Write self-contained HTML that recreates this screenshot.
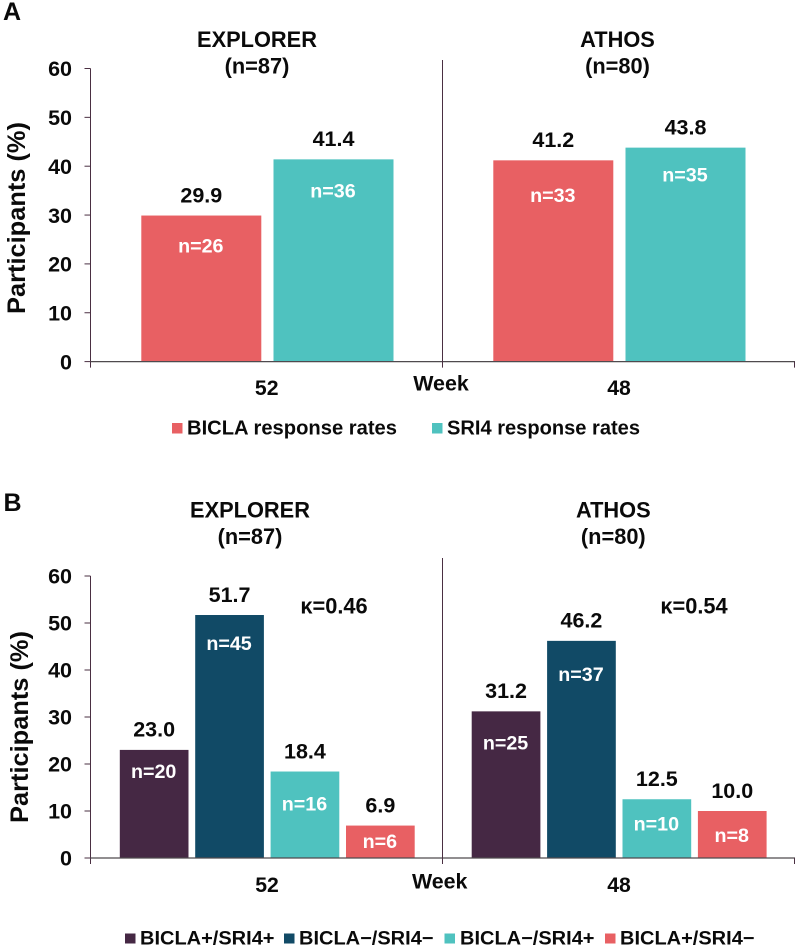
<!DOCTYPE html>
<html><head><meta charset="utf-8"><title>BICLA and SRI4 response rates</title>
<style>html,body{margin:0;padding:0;background:#fff}svg{display:block}text{font-family:"Liberation Sans",sans-serif;font-weight:bold;fill:#0a0a0a}</style></head>
<body>
<svg id="chart" width="800" height="947" viewBox="0 0 800 947" xmlns="http://www.w3.org/2000/svg"></svg>
<script>
const yTicks = [0, 10, 20, 30, 40, 50, 60];
const trials = ['EXPLORER', 'ATHOS'];
const trialSizes = ['(n=87)', '(n=80)'];
const weeks = ['52', '48'];
const panelAValues = [[29.9, 41.4], [41.2, 43.8]];
const panelACounts = [['n=26', 'n=36'], ['n=33', 'n=35']];
const panelAColors = ['#e86063', '#4fc2bf'];
const panelASeries = ['BICLA response rates', 'SRI4 response rates'];
const panelBValues = [[23.0, 51.7, 18.4, 6.9], [31.2, 46.2, 12.5, 10.0]];
const panelBCounts = [['n=20', 'n=45', 'n=16', 'n=6'], ['n=25', 'n=37', 'n=10', 'n=8']];
const panelBColors = ['#452844', '#114a66', '#4fc2bf', '#e86063'];
const panelBSeries = ['BICLA+/SRI4+', 'BICLA\u2212/SRI4\u2212', 'BICLA\u2212/SRI4+', 'BICLA+/SRI4\u2212'];
const kappas = ['\u03ba=0.46', '\u03ba=0.54'];

const svg = document.getElementById('chart');
const NS = 'http://www.w3.org/2000/svg';
function add(tag, attrs, name, text) {
  const el = document.createElementNS(NS, tag);
  for (const k in attrs) el.setAttribute(k, attrs[k]);
  
  
  if (text !== undefined) el.textContent = text;
  svg.appendChild(el);
  return el;
}
function label(x, y, size, str, name, anchor) {
  return add('text', {x: x, y: y, 'font-size': size, 'text-anchor': anchor || 'middle'}, name, str);
}
function drawPanel(p) {
  const yScale = v => p.y0 - v * (p.y0 - p.y60) / 60;
  const axis = '#4a2f42';
  yTicks.forEach(t => {
    add('line', {x1: 84.5, x2: 90.5, y1: yScale(t), y2: yScale(t), stroke: axis, 'stroke-width': 1}, p.id + '-y-tick-' + t);
    label(72, yScale(t) + 7.7, 21.5, String(t), p.id + '-y-label-' + t, 'end');
  });
  p.values.forEach((group, g) => {
    const x0 = p.groupStart[g];
    group.forEach((v, i) => {
      const x = x0 + i * p.step;
      const cx = x + p.barW / 2;
      add('rect', {x: x, y: yScale(v), width: p.barW, height: p.y0 - yScale(v), fill: p.colors[i]}, p.id + '-bar-' + weeks[g] + '-' + i);
      label(cx, yScale(v) - 13.2, 21.5, v.toFixed(1), p.id + '-value-' + weeks[g] + '-' + i);
      add('text', {
        x: cx - 0.5, y: yScale(v) + p.countInset[g][i], 'font-size': 19.7, 'text-anchor': 'middle', style: 'fill:#fff'
      }, p.id + '-count-' + weeks[g] + '-' + i, p.counts[g][i]);
    });
    label(p.titleX[g], p.titleY, 21.8, trials[g], p.id + '-trial-title-' + trials[g].toLowerCase());
    label(p.titleX[g], p.titleY + 26.5, 21.8, trialSizes[g], p.id + '-trial-size-' + trials[g].toLowerCase());
    label(p.weekX[g], p.weekY, 21.2, weeks[g], p.id + '-week-label-' + weeks[g]);
  });
  add('line', {x1: 90.5, x2: 90.5, y1: p.y60, y2: p.y0 + 6, stroke: axis, 'stroke-width': 1}, p.id + '-y-axis');
  add('line', {x1: 90.5, x2: 795, y1: p.y0, y2: p.y0, stroke: '#4f4a4e', 'stroke-width': 1.2}, p.id + '-x-axis');
  add('line', {x1: 442.5, x2: 442.5, y1: p.divTop, y2: p.y0 + 6, stroke: axis, 'stroke-width': 1}, p.id + '-group-divider');
  add('line', {x1: 794.5, x2: 794.5, y1: p.y0, y2: p.y0 + 6, stroke: axis, 'stroke-width': 1}, p.id + '-x-axis-end-tick');
  label(p.weekTitleX, p.weekTitleY, 21.4, 'Week', p.id + '-x-axis-title');
  add('text', {
    x: 0, y: 0, 'font-size': 25.4, 'text-anchor': 'middle',
    transform: 'translate(' + p.yTitleX + ' ' + p.yTitleY + ') rotate(-90)'
  }, p.id + '-y-axis-title', 'Participants (%)');
  label(p.letterX, p.letterY, 25, p.letter, p.id + '-panel-letter', 'start');
}
drawPanel({
  id: 'panel-a', letter: 'A', letterX: 3, letterY: 20, y0: 361.6, y60: 68.5, divTop: 60,
  values: panelAValues, counts: panelACounts, colors: panelAColors,
  countInset: [[37, 38], [41.5, 34]],
  groupStart: [141.3, 493.3], step: 132.2, barW: 120,
  titleX: [257, 617.5], titleY: 47, weekX: [266.7, 619], weekY: 395,
  weekTitleX: 441, weekTitleY: 390.7, yTitleX: 25, yTitleY: 218
});
drawPanel({
  id: 'panel-b', letter: 'B', letterX: 3.5, letterY: 511, y0: 858, y60: 576, divTop: 558,
  values: panelBValues, counts: panelBCounts, colors: panelBColors,
  countInset: [[28, 35, 39, 22.6], [38, 40, 31, 31]],
  groupStart: [119.8, 471.7], step: 75.4, barW: 68.7,
  titleX: [250, 613.3], titleY: 517.3, weekX: [267, 619], weekY: 892,
  weekTitleX: 439.7, weekTitleY: 888.3, yTitleX: 28, yTitleY: 727
});
kappas.forEach((k, i) => {
  label([334, 694][i], 613.3, 21.8, k, 'panel-b-kappa-' + trials[i].toLowerCase());
});
const legendASwatchX = [172, 432];
const legendATextX = [187, 447];
const legendATextW = [210, 193];
panelASeries.forEach((name, i) => {
  add('rect', {x: legendASwatchX[i], y: 423, width: 10.5, height: 10.5, fill: panelAColors[i]}, 'panel-a-legend-swatch-' + i);
  add('text', {x: legendATextX[i], y: 434.3, 'font-size': 20, textLength: legendATextW[i], lengthAdjust: 'spacingAndGlyphs'}, 'panel-a-legend-label-' + i, name);
});
const legendBSwatchX = [125, 284, 444.5, 605];
const legendBTextX = [140, 299, 460, 620];
panelBSeries.forEach((name, i) => {
  add('rect', {x: legendBSwatchX[i], y: 933.5, width: 10.5, height: 10, fill: panelBColors[i]}, 'panel-b-legend-swatch-' + i);
  add('text', {x: legendBTextX[i], y: 944.5, 'font-size': 19, textLength: 134.5, lengthAdjust: 'spacingAndGlyphs'}, 'panel-b-legend-label-' + i, name);
});
</script>
</body></html>
